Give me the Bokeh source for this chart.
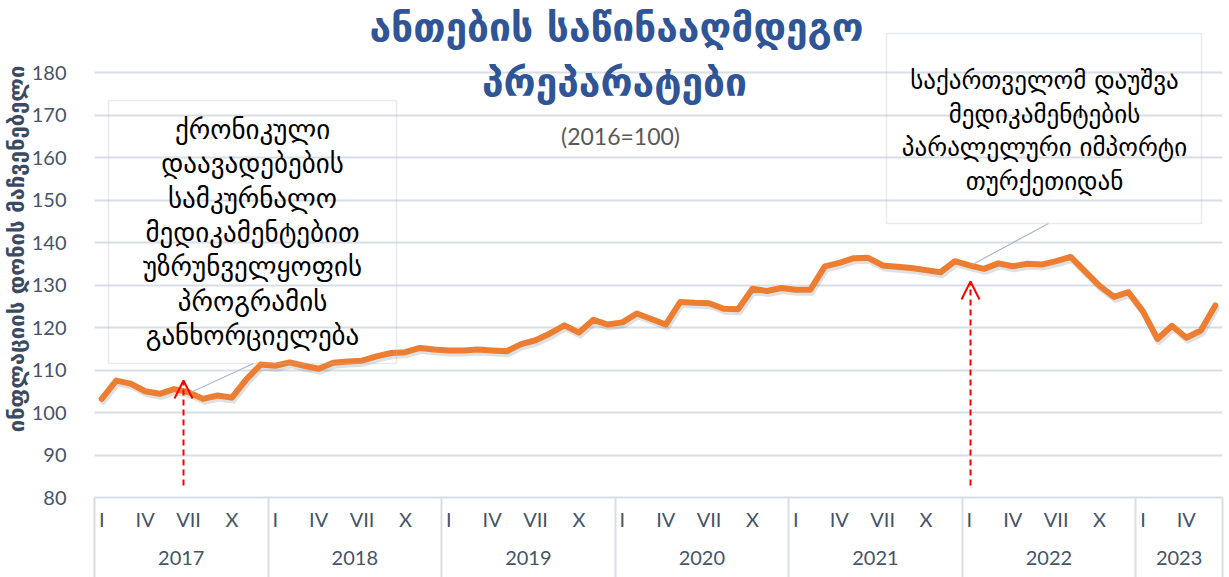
from bokeh.plotting import figure
from bokeh.models import (Range1d, LinearAxis, FixedTicker, Label, BoxAnnotation,
                          Arrow, OpenHead, ColumnDataSource)
from bokeh.embed import file_html
from bokeh.resources import INLINE

# ---------------- data ----------------
years = ["2017", "2018", "2019", "2020", "2021", "2022", "2023"]
months_per_year = [12, 12, 12, 12, 12, 12, 6]
month_names = ["I", "II", "III", "IV", "V", "VI", "VII", "VIII", "IX", "X", "XI", "XII"]
shown_months = ["I", "IV", "VII", "X"]

index_2017 = [103.2, 107.5, 106.8, 105.0, 104.4, 105.5, 104.8, 103.2, 104.0, 103.5, 107.8, 111.3]
index_2018 = [111.0, 111.8, 111.0, 110.3, 111.7, 112.0, 112.2, 113.2, 114.0, 114.2, 115.2, 114.8]
index_2019 = [114.6, 114.6, 114.8, 114.6, 114.4, 116.1, 117.0, 118.6, 120.5, 118.8, 121.8, 120.7]
index_2020 = [121.2, 123.3, 122.0, 120.7, 126.0, 125.8, 125.7, 124.4, 124.3, 129.1, 128.6, 129.3]
index_2021 = [128.9, 128.9, 134.4, 135.2, 136.3, 136.4, 134.6, 134.3, 134.0, 133.5, 133.0, 135.6]
index_2022 = [134.6, 133.8, 135.1, 134.4, 135.0, 134.8, 135.6, 136.6, 133.2, 129.8, 127.2, 128.3]
index_2023 = [123.8, 117.3, 120.4, 117.6, 119.3, 125.2]

title_line1 = "ანთების საწინააღმდეგო"
title_line2 = "პრეპარატები"
subtitle = "(2016=100)"
y_title = "ინფლაციის დონის მაჩვენებელი"
note1 = ["ქრონიკული", "დაავადებების", "სამკურნალო", "მედიკამენტებით",
         "უზრუნველყოფის", "პროგრამის", "განხორციელება"]
note2 = ["საქართველომ დაუშვა", "მედიკამენტების", "პარალელური იმპორტი", "თურქეთიდან"]
y_ticks = [80, 90, 100, 110, 120, 130, 140, 150, 160, 170, 180]

values = index_2017 + index_2018 + index_2019 + index_2020 + index_2021 + index_2022 + index_2023
n = len(values)
xs = [i + 0.5 for i in range(n)]

# ---------------- layout helpers (screen px -> data) ----------------
FIG_W, FIG_H = 1229, 577
LEFT, RIGHT, BOTTOM = 94, 7, 80
FRAME_W = FIG_W - LEFT - RIGHT
FRAME_H = FIG_H - BOTTOM
PX_PER_UNIT = 4.25
Y0 = 80
Y1 = Y0 + FRAME_H / PX_PER_UNIT


def px2x(sx):
    return (sx - LEFT) * n / FRAME_W


def px2y(sy):
    return Y0 + (FRAME_H - sy) / PX_PER_UNIT


# ---------------- figure ----------------
p = figure(width=FIG_W, height=FIG_H, x_range=Range1d(0, n), y_range=Range1d(Y0, Y1),
           output_backend="svg", toolbar_location=None, x_axis_type=None,
           min_border_left=LEFT, min_border_right=RIGHT, min_border_top=0,
           min_border_bottom=BOTTOM)
p.outline_line_color = None
p.background_fill_color = "white"
p.border_fill_color = "white"

AX_COLOR = "#44546A"
GRID = "#D9DEE6"

yt = FixedTicker(ticks=y_ticks, minor_ticks=[])
p.yaxis.ticker = yt
p.yaxis.axis_line_color = None
p.yaxis.major_tick_line_color = None
p.yaxis.minor_tick_line_color = None
p.yaxis.major_label_standoff = 22
p.yaxis.major_label_text_font = "Lato"
p.yaxis.major_label_text_font_size = "20px"
p.yaxis.major_label_text_color = AX_COLOR
p.yaxis.axis_label = y_title
p.yaxis.axis_label_text_font = "DejaVu Sans"
p.yaxis.axis_label_text_font_style = "bold"
p.yaxis.axis_label_text_font_size = "22px"
p.yaxis.axis_label_text_color = "#3A4A63"
p.yaxis.axis_label_standoff = 0
p.ygrid.ticker = yt
p.ygrid.grid_line_color = GRID
p.ygrid.grid_line_width = 2

# x axes: months (with year separators as minor ticks) and years
month_ticks, month_over, bounds, year_ticks, year_over = [], {}, [0], [], {}
start = 0
for yr, cnt in zip(years, months_per_year):
    for m in range(cnt):
        if month_names[m] in shown_months:
            t = start + m + 0.5
            month_ticks.append(t)
            month_over[t] = month_names[m]
    c = start + cnt / 2
    year_ticks.append(c)
    year_over[c] = yr
    start += cnt
    bounds.append(start)

SEP = 80
ax_m = LinearAxis(ticker=FixedTicker(ticks=month_ticks, minor_ticks=bounds),
                  major_label_overrides=month_over)
ax_m.axis_line_color = GRID
ax_m.axis_line_width = 2
ax_m.major_tick_line_color = None
ax_m.major_tick_in = 0
ax_m.major_tick_out = 0
ax_m.minor_tick_in = 0
ax_m.minor_tick_out = SEP
ax_m.minor_tick_line_color = GRID
ax_m.minor_tick_line_width = 2
ax_m.major_label_standoff = 9 - SEP
ax_m.major_label_text_font = "Lato"
ax_m.major_label_text_font_size = "20px"
ax_m.major_label_text_color = AX_COLOR
p.add_layout(ax_m, "below")

ax_y = LinearAxis(ticker=FixedTicker(ticks=year_ticks, minor_ticks=[]),
                  major_label_overrides=year_over)
ax_y.axis_line_color = None
ax_y.major_tick_line_color = None
ax_y.minor_tick_line_color = None
ax_y.major_tick_in = 0
ax_y.major_tick_out = 0
ax_y.major_label_standoff = 17
ax_y.major_label_text_font = "Lato"
ax_y.major_label_text_font_size = "20px"
ax_y.major_label_text_color = AX_COLOR
p.add_layout(ax_y, "below")

# ---------------- series ----------------
src = ColumnDataSource(dict(x=xs, y=values))
dy = 3 / PX_PER_UNIT
dx = 1.5 * n / FRAME_W
p.extra_y_ranges = {"sh": Range1d(Y0 + dy, Y1 + dy)}
p.extra_x_ranges = {"shx": Range1d(-dx, n - dx)}
p.line("x", "y", source=src, line_color="#000000", line_alpha=0.12, line_width=6,
       x_range_name="shx", y_range_name="sh", line_join="round", line_cap="round")
p.line("x", "y", source=src, line_color="#ED7D31", line_width=6,
       line_join="round", line_cap="round")

# ---------------- titles ----------------
TITLE_C = "#2F5597"
for txt, sx, sy, size, col, font, style in [
    (title_line1, 616, 27, "39px", TITLE_C, "DejaVu Sans", "bold"),
    (title_line2, 614, 82, "39px", TITLE_C, "DejaVu Sans", "bold"),
    (subtitle, 620, 135, "23px", "#595959", "Lato", "normal"),
]:
    p.add_layout(Label(x=px2x(sx), y=px2y(sy), text=txt, text_align="center",
                       text_baseline="middle", text_font_size=size, text_color=col,
                       text_font=font, text_font_style=style))

# ---------------- annotation boxes ----------------
BOX_C = "#ADB9CA"
p.add_layout(BoxAnnotation(left=px2x(108), right=px2x(396), top=px2y(100), bottom=px2y(363),
                           fill_color=None, line_color=BOX_C, line_width=1.5))
p.add_layout(BoxAnnotation(left=px2x(886), right=px2x(1201), top=px2y(33), bottom=px2y(223),
                           fill_color=None, line_color=BOX_C, line_width=1.5))

for k, txt in enumerate(note1):
    p.add_layout(Label(x=px2x(252), y=px2y(129 + k * 34.3), text=txt, text_align="center",
                       text_baseline="middle", text_font="DejaVu Sans",
                       text_font_size="27px", text_color="black"))
for k, txt in enumerate(note2):
    p.add_layout(Label(x=px2x(1044), y=px2y(80 + k * 33.7), text=txt, text_align="center",
                       text_baseline="middle", text_font="DejaVu Sans",
                       text_font_size="25px", text_color="black"))

# leader lines
p.add_layout(Arrow(end=None, x_start=px2x(253), y_start=px2y(363), x_end=px2x(190),
                   y_end=px2y(392), line_color=BOX_C, line_width=1.2))
p.add_layout(Arrow(end=None, x_start=px2x(1048), y_start=px2y(223), x_end=px2x(972),
                   y_end=px2y(264), line_color=BOX_C, line_width=1.2))

# red dashed arrows
for sx, top in [(183, 380), (970, 281)]:
    p.add_layout(Arrow(end=OpenHead(size=18, line_color="#FF0000", line_width=2),
                       x_start=px2x(sx), y_start=px2y(485), x_end=px2x(sx), y_end=px2y(top),
                       line_color="#FF0000", line_width=2, line_dash="6 4"))

open("out.html", "w").write(file_html(p, INLINE))
